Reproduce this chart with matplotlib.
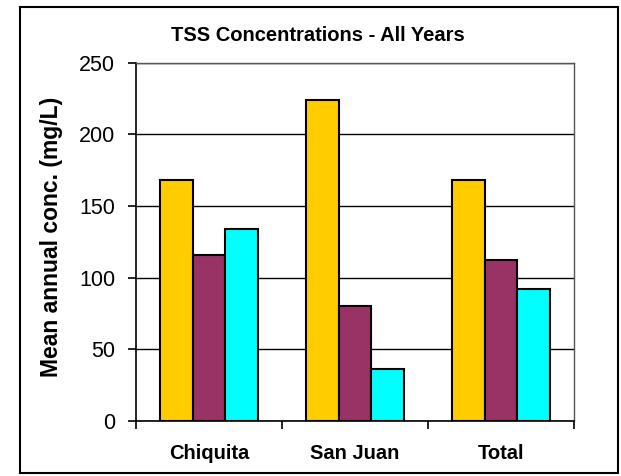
import matplotlib
matplotlib.use("Agg")
import matplotlib.pyplot as plt
from matplotlib.patches import Rectangle
import numpy as np

categories = ["Chiquita", "San Juan", "Total"]
series_a = [168, 224, 168]
series_b = [116, 80, 112]
series_c = [134, 36, 92]
colors = ["#FFCC00", "#993366", "#00FFFF"]
yticks = [0, 50, 100, 150, 200, 250]

plt.rcParams['font.family'] = ['Liberation Sans', 'DejaVu Sans']

W, H = 621, 476
fig = plt.figure(figsize=(W / 100, H / 100), dpi=100)
fig.patch.set_facecolor("white")

ax = fig.add_axes([136 / W, 1 - 420.7 / H, (574 - 136) / W, (420.7 - 62.7) / H])

x = np.arange(len(categories))
bw = 0.223
for k, (vals, c) in enumerate(zip([series_a, series_b, series_c], colors)):
    ax.bar(x + (k - 1) * bw, vals, width=bw, color=c, edgecolor="black",
           linewidth=1.5, zorder=3)

ax.set_xlim(-0.5, len(categories) - 0.5)
ax.set_ylim(0, 250)
ax.set_yticks(yticks)
ax.set_yticklabels([str(v) for v in yticks], fontsize=15.5)
ax.yaxis.grid(True, color="black", linewidth=1.0, zorder=0)
ax.set_axisbelow(True)

ax.set_xticks(x)
ax.set_xticklabels(categories, fontsize=14.5, fontweight="bold")
ax.set_xticks(np.arange(len(categories) + 1) - 0.5, minor=True)
ax.tick_params(axis="x", which="major", length=0, pad=17)
ax.tick_params(axis="x", which="minor", length=6, width=1.2, direction="out")
ax.tick_params(axis="y", length=6, width=1.2, direction="out", pad=9)

for s in ["left", "bottom"]:
    ax.spines[s].set_linewidth(1.2)
    ax.spines[s].set_color("black")
for s in ["right", "top"]:
    ax.spines[s].set_linewidth(1.0)
    ax.spines[s].set_color("#555555")

fig.text(318 / W, 1 - 41 / H, "TSS Concentrations - All Years", ha="center",
         va="baseline", fontsize=14.5, fontweight="bold")
fig.text(52 / W, 1 - 237 / H, "Mean annual conc. (mg/L)", rotation=90,
         ha="center", va="center", fontsize=16.5, fontweight="bold")

fig.patches.append(Rectangle((20 / W, 1 - 473 / H), (618 - 20) / W, (473 - 7) / H,
                             transform=fig.transFigure, fill=False,
                             edgecolor="black", linewidth=1.5))

fig.savefig("out.png", dpi=100, facecolor="white")
